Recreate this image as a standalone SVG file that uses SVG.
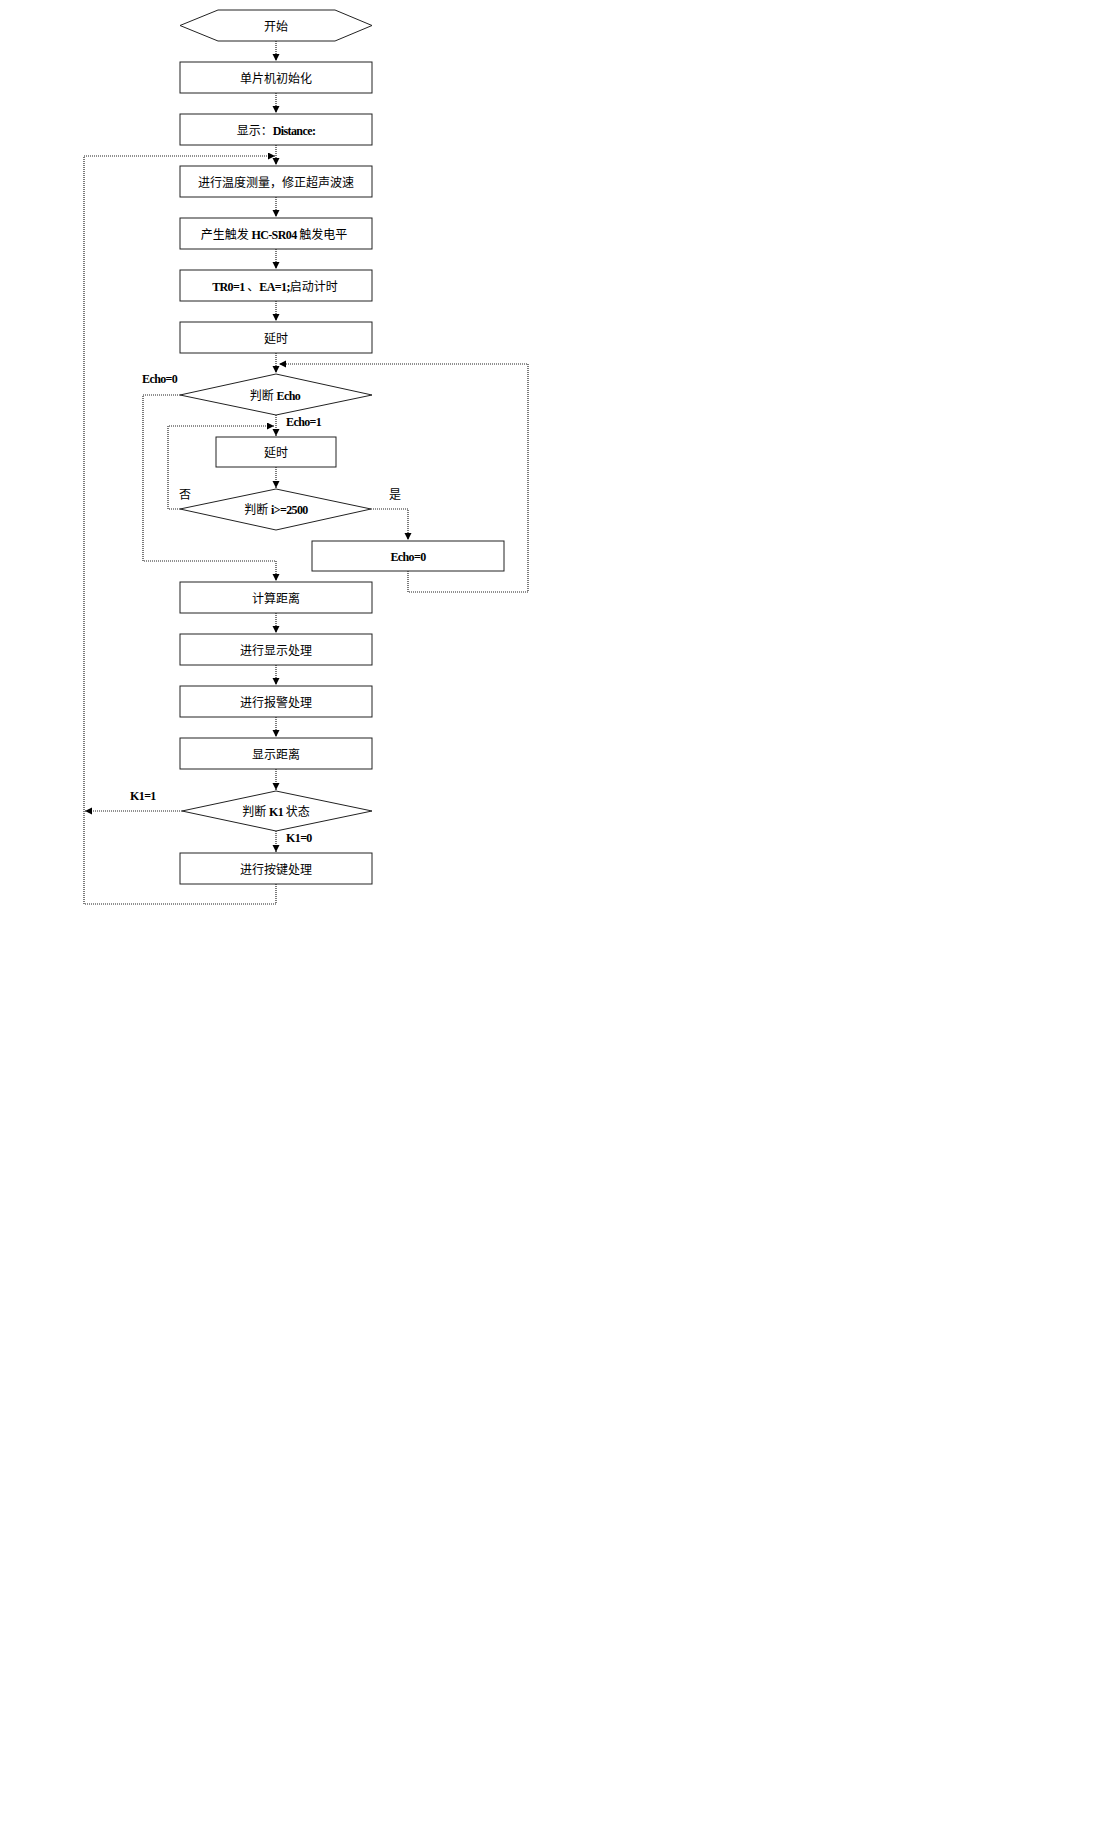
<svg xmlns="http://www.w3.org/2000/svg" width="1104" height="1830" viewBox="0 0 1104 1830">
<style>
.n{fill:#fff;stroke:#222;stroke-width:1}
.c{fill:none;stroke:#222;stroke-width:1.2;stroke-dasharray:1 1}
.t{font-family:"Noto Sans CJK SC","Liberation Sans",sans-serif;font-size:12px;fill:#000;text-anchor:middle}
.e{font-family:"Liberation Serif",serif;font-weight:bold;letter-spacing:-0.6px}
.l{font-family:"Liberation Serif",serif;font-weight:bold;font-size:12px;fill:#000;letter-spacing:-0.6px}
.lc{font-family:"Noto Sans CJK SC",sans-serif;font-size:12px;fill:#000}
</style>
<defs>
<marker id="a" markerUnits="userSpaceOnUse" markerWidth="8" markerHeight="8" refX="7" refY="3.5" orient="auto">
<path d="M0,0 L7,3.5 L0,7 z" fill="#000"/>
</marker>
</defs>
<rect width="1104" height="1830" fill="#fff"/>
<g id="connectors">
<path class="c" d="M276,41 V61" marker-end="url(#a)"/>
<path class="c" d="M276,93 V113" marker-end="url(#a)"/>
<path class="c" d="M276,145 V165" marker-end="url(#a)"/>
<path class="c" d="M276,884 V904 H84 V156 H275" marker-end="url(#a)"/>
<path class="c" d="M276,197 V217" marker-end="url(#a)"/>
<path class="c" d="M276,249 V269" marker-end="url(#a)"/>
<path class="c" d="M276,301 V321" marker-end="url(#a)"/>
<path class="c" d="M276,353 V373" marker-end="url(#a)"/>
<path class="c" d="M408,571 V592 H528 V364 H279" marker-end="url(#a)"/>
<path class="c" d="M180,395 H143 V561 H276 V581" marker-end="url(#a)"/>
<path class="c" d="M276,415 V436" marker-end="url(#a)"/>
<path class="c" d="M180,509 H168 V426 H274" marker-end="url(#a)"/>
<path class="c" d="M276,467 V488" marker-end="url(#a)"/>
<path class="c" d="M371,509 H408 V540" marker-end="url(#a)"/>
<path class="c" d="M276,613 V633" marker-end="url(#a)"/>
<path class="c" d="M276,665 V685" marker-end="url(#a)"/>
<path class="c" d="M276,717 V737" marker-end="url(#a)"/>
<path class="c" d="M276,769 V790" marker-end="url(#a)"/>
<path class="c" d="M276,831 V852" marker-end="url(#a)"/>
<path class="c" d="M182,811 H85" marker-end="url(#a)"/>
</g>
<g id="start"><polygon class="n" points="180,25.5 218,10 335,10 372,25.5 335,41 218,41"/><text class="t" x="276" y="31">开始</text></g>
<g id="init"><rect class="n" x="180" y="62" width="192" height="31"/><text class="t" x="276" y="83">单片机初始化</text></g>
<g id="show"><rect class="n" x="180" y="114" width="192" height="31"/><text class="t" x="276" y="135">显示：<tspan class="e">Distance:</tspan></text></g>
<g id="temp"><rect class="n" x="180" y="166" width="192" height="31"/><text class="t" x="276" y="187">进行温度测量，修正超声波速</text></g>
<g id="trig"><rect class="n" x="180" y="218" width="192" height="31"/><text class="t" x="274" y="239">产生触发 <tspan class="e">HC-SR04</tspan> 触发电平</text></g>
<g id="timer"><rect class="n" x="180" y="270" width="192" height="31"/><text class="t" x="275" y="291"><tspan class="e">TR0=1</tspan> 、<tspan class="e">EA=1;</tspan>启动计时</text></g>
<g id="delay1"><rect class="n" x="180" y="322" width="192" height="31"/><text class="t" x="276" y="343">延时</text></g>
<g id="judgeEcho"><polygon class="n" points="180,395 276,374 372,395 276,415"/><text class="t" x="275" y="400">判断 <tspan class="e">Echo</tspan></text></g>
<g id="delay2"><rect class="n" x="216" y="437" width="120" height="30"/><text class="t" x="276" y="457">延时</text></g>
<g id="judgeI"><polygon class="n" points="180,509 276,489 371,509 276,530"/><text class="t" x="276" y="514">判断 <tspan class="e">i&gt;=2500</tspan></text></g>
<g id="echo0"><rect class="n" x="312" y="541" width="192" height="30"/><text class="t e" x="408" y="561">Echo=0</text></g>
<g id="calc"><rect class="n" x="180" y="582" width="192" height="31"/><text class="t" x="276" y="603">计算距离</text></g>
<g id="disp"><rect class="n" x="180" y="634" width="192" height="31"/><text class="t" x="276" y="655">进行显示处理</text></g>
<g id="alarm"><rect class="n" x="180" y="686" width="192" height="31"/><text class="t" x="276" y="707">进行报警处理</text></g>
<g id="showDist"><rect class="n" x="180" y="738" width="192" height="31"/><text class="t" x="276" y="759">显示距离</text></g>
<g id="judgeK1"><polygon class="n" points="182,811 276,791 372,811 276,831"/><text class="t" x="276" y="816">判断 <tspan class="e">K1</tspan> 状态</text></g>
<g id="key"><rect class="n" x="180" y="853" width="192" height="31"/><text class="t" x="276" y="874">进行按键处理</text></g>
<g id="labels">
<text class="l" x="142" y="383">Echo=0</text>
<text class="l" x="286" y="426">Echo=1</text>
<text class="lc" x="179" y="499">否</text>
<text class="lc" x="389" y="499">是</text>
<text class="l" x="130" y="800">K1=1</text>
<text class="l" x="286" y="842">K1=0</text>
</g>
</svg>
